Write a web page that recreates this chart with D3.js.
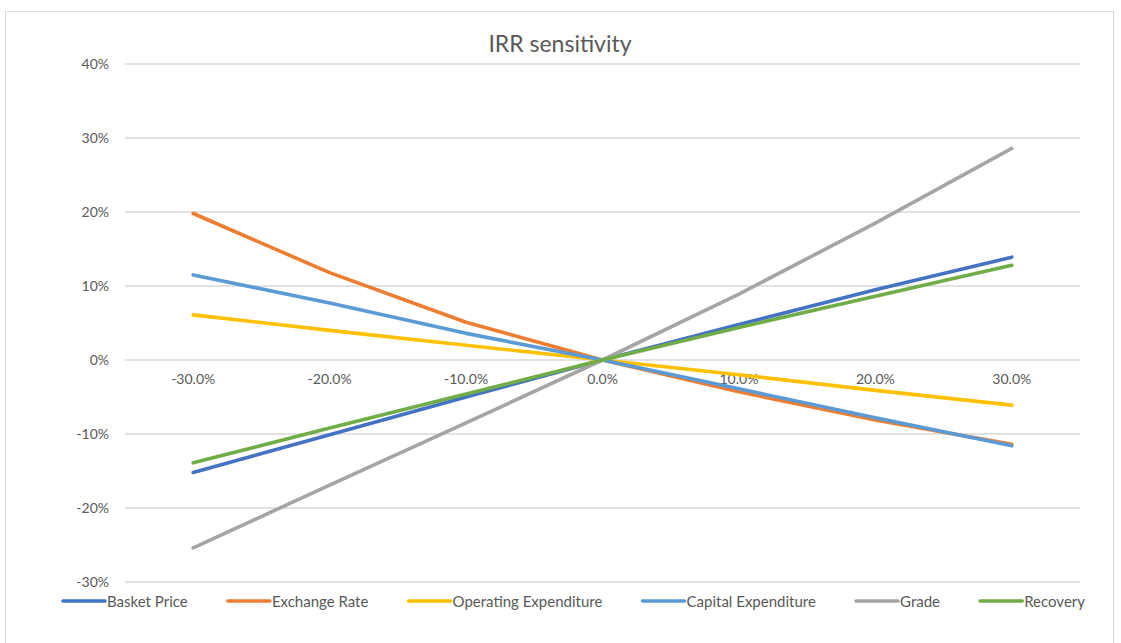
<!DOCTYPE html>
<html><head><meta charset="utf-8">
<script src="https://cdn.jsdelivr.net/npm/d3@7"></script>
<style>
body{margin:0;background:#fff;}
svg text{font-family:Lato,"Open Sans",sans-serif;}
</style></head>
<body><svg id="c" width="1121" height="643"></svg>
<script>
const categories = ["-30.0%","-20.0%","-10.0%","0.0%","10.0%","20.0%","30.0%"];
const seriesNames = ["Basket Price","Exchange Rate","Operating Expenditure","Capital Expenditure","Grade","Recovery"];
const basketPrice = [-15.2,-10.1,-5.0,0,4.8,9.5,13.9];
const exchangeRate = [19.8,11.8,5.1,0,-4.3,-8.1,-11.4];
const operatingExpenditure = [6.1,4.0,2.0,0,-2.0,-4.1,-6.1];
const capitalExpenditure = [11.5,7.7,3.6,0,-3.9,-7.8,-11.6];
const grade = [-25.4,-16.9,-8.5,0,8.9,18.5,28.6];
const recovery = [-13.9,-9.2,-4.6,0,4.4,8.6,12.8];
const yTicks = [-30,-20,-10,0,10,20,30,40];
const colors = ["#4472C4","#ED7D31","#FFC000","#5B9BD5","#A5A5A5","#70AD47"];
const seriesValues = [basketPrice,exchangeRate,operatingExpenditure,capitalExpenditure,grade,recovery];

const svg = d3.select("#c");
svg.append("rect").attr("x",5.5).attr("y",11.5).attr("width",1108).attr("height",640)
  .attr("fill","#fff").attr("stroke","#d9d9d9");

const x = d3.scaleBand().domain(categories).range([125,1080]);
const y = d3.scaleLinear().domain([-30,40]).range([582,64]);
const cx = c => x(c) + x.bandwidth()/2;

// grid
svg.append("g").selectAll("line").data(yTicks).join("line")
  .attr("x1",125).attr("x2",1080).attr("y1",d=>y(d)).attr("y2",d=>y(d))
  .attr("stroke","#d9d9d9").attr("stroke-width",1.3);

// y axis labels
const yAxis = d3.axisLeft(y).tickValues(yTicks).tickFormat(d=>d+"%").tickSize(0).tickPadding(0);
const gy = svg.append("g").attr("transform","translate(109,0)").call(yAxis);
gy.select(".domain").remove();
gy.selectAll("text").attr("fill","#595959").style("font-size","14px").style("font-family","Lato,sans-serif");

// x axis labels at zero
const xAxis = d3.axisBottom(x).tickSize(0).tickPadding(0);
const gx = svg.append("g").attr("transform",`translate(0,${y(0)+14})`).call(xAxis);
gx.select(".domain").remove();
gx.selectAll("text").attr("fill","#595959").style("font-size","14px").style("font-family","Lato,sans-serif");

// lines
const line = d3.line().x((d,i)=>cx(categories[i])).y(d=>y(d));
svg.append("g").selectAll("path").data(seriesValues).join("path")
  .attr("d",line).attr("fill","none").attr("stroke",(d,i)=>colors[i])
  .attr("stroke-width",3.6).attr("stroke-linecap","round").attr("stroke-linejoin","round");

// title
svg.append("text").attr("x",560).attr("y",52).attr("text-anchor","middle")
  .attr("fill","#595959").style("font-size","23px").text("IRR sensitivity");

// legend
const lg = svg.append("g");
const items = lg.selectAll("g").data(seriesNames).join("g");
items.append("line").attr("x1",0).attr("x2",42).attr("y1",0).attr("y2",0)
  .attr("stroke",(d,i)=>colors[i]).attr("stroke-width",3.6).attr("stroke-linecap","round");
items.append("text").attr("x",44).attr("y",5.5).attr("fill","#595959").style("font-size","15px").text(d=>d);
let widths = [];
items.each(function(){ widths.push(44 + d3.select(this).select("text").node().getComputedTextLength()); });
const gap = (1085 - 63 - d3.sum(widths)) / (widths.length-1);
let start = 63;
items.attr("transform",(d,i)=>{ const t=`translate(${start},601)`; start += widths[i]+gap; return t; });
</script></body></html>
